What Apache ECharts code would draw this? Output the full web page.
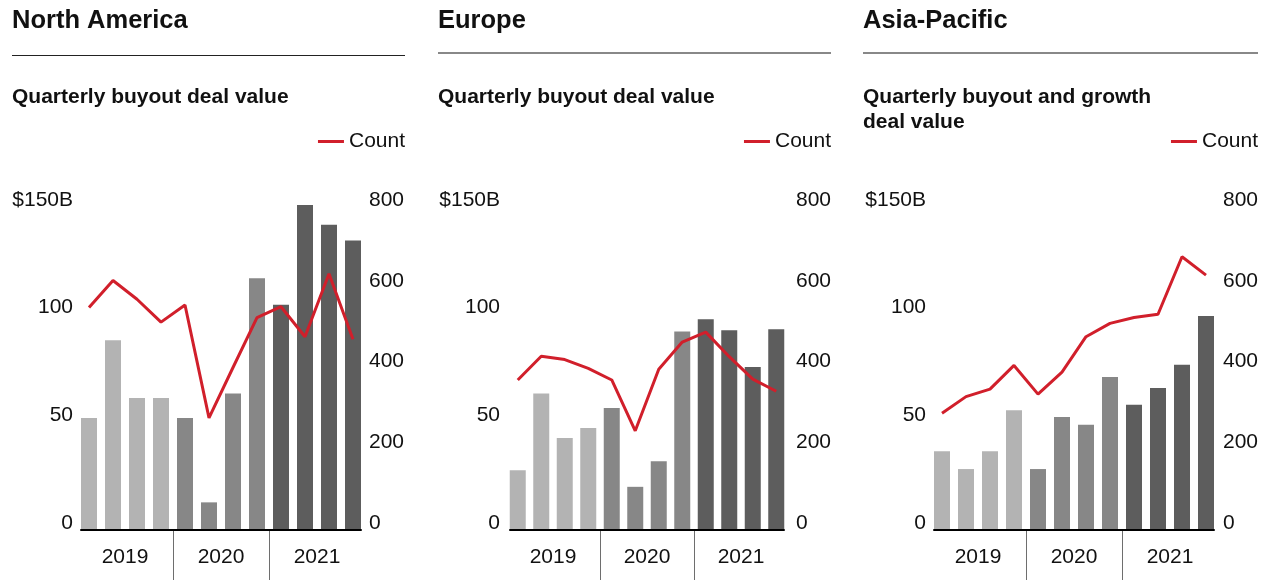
<!DOCTYPE html>
<html>
<head>
<meta charset="utf-8">
<script src="https://cdn.jsdelivr.net/npm/echarts@6.0.0/dist/echarts.min.js"></script>
<style>
  html, body { margin: 0; padding: 0; background: #fff; }
  #chart { width: 1270px; height: 580px; }
</style>
</head>
<body>
<div id="chart"></div>
<script>
// quarterly categories, 2019 Q1 .. 2021 Q4
const quarters = [
  'Q1 2019', 'Q2 2019', 'Q3 2019', 'Q4 2019',
  'Q1 2020', 'Q2 2020', 'Q3 2020', 'Q4 2020',
  'Q1 2021', 'Q2 2021', 'Q3 2021', 'Q4 2021'
]
const years = ['2019', '2020', '2021']
const regions = ['North America', 'Europe', 'Asia-Pacific']
const subtitles = [
  'Quarterly buyout deal value',
  'Quarterly buyout deal value',
  'Quarterly buyout and growth\ndeal value'
]
const valueTicks = ['0', '50', '100', '$150B']
const countTicks = ['0', '200', '400', '600', '800']

// deal value ($B)
const naValue = [50, 85, 59, 59, 50, 12, 61, 113, 101, 146, 137, 130]
const euValue = [26.5, 61, 41, 45.5, 54.5, 19, 30.5, 89, 94.5, 89.5, 73, 90]
const apValue = [35, 27, 35, 53.5, 27, 50.5, 47, 68.5, 56, 63.5, 74, 96]

// deal count
const naCount = [532, 597, 552, 497, 538, 267, 388, 508, 534, 462, 613, 456]
const euCount = [358, 415, 407, 386, 358, 236, 384, 449, 473, 414, 360, 331]
const apCount = [278, 318, 336, 393, 324, 377, 462, 494, 508, 516, 654, 610]

const values = [naValue, euValue, apValue]
const counts = [naCount, euCount, apCount]

const barShades = ['#b3b3b3', '#878787', '#5d5d5d']
const red = '#d11f2b'
const font = 'Liberation Sans, Arial, sans-serif'

// layout of the three panels (px)
const panels = [
  { text: 12, ruleEnd: 405, gridLeft: 77, gridWidth: 288, lm: 4, rm: 4, ruleY: 55.5, ruleW: 1, ruleColor: '#222' },
  { text: 438, ruleEnd: 831, gridLeft: 506, gridWidth: 282, lm: 6, rm: 8, ruleY: 53, ruleW: 2, ruleColor: '#888' },
  { text: 863, ruleEnd: 1258, gridLeft: 930, gridWidth: 288, lm: 4, rm: 5, ruleY: 53, ruleW: 2, ruleColor: '#888' }
]
const plotTop = 196
const plotHeight = 333
// tick labels sit on a slightly tighter band than the bars
const labelTop = 200
const labelHeight = 323

const chart = echarts.init(document.getElementById('chart'))

const title = []
const legend = []
const grid = []
const xAxis = []
const yAxis = []
const series = []
const graphic = []
const hidden = { show: false }

panels.forEach((p, i) => {
  title.push({
    text: regions[i],
    left: p.text,
    top: 8,
    padding: 0,
    textStyle: { fontFamily: font, fontSize: 25.5, fontWeight: 'bold', color: '#111' }
  })
  title.push({
    text: subtitles[i],
    left: p.text,
    top: 85,
    padding: 0,
    textStyle: { fontFamily: font, fontSize: 21, fontWeight: 'bold', color: '#111', lineHeight: 25 }
  })
  graphic.push({
    type: 'line',
    shape: { x1: p.text, y1: p.ruleY, x2: p.ruleEnd, y2: p.ruleY },
    style: { stroke: p.ruleColor, lineWidth: p.ruleW }
  })
  legend.push({
    data: [{ name: 'Count' }],
    right: 1270 - p.ruleEnd,
    top: 131,
    padding: 0,
    icon: 'rect',
    itemWidth: 26,
    itemHeight: 3,
    selectedMode: false,
    textStyle: { fontFamily: font, fontSize: 21, color: '#111' }
  })

  const g = 4 * i
  // main plot, baseline, year band, tick-label band
  grid.push({ left: p.gridLeft, width: p.gridWidth, top: plotTop, height: plotHeight })
  grid.push({ left: p.gridLeft + 4, width: p.gridWidth - 8, top: plotTop + plotHeight, height: 1 })
  grid.push({ left: p.gridLeft, width: p.gridWidth, top: plotTop + plotHeight + 1, height: 580 - plotTop - plotHeight - 1 })
  grid.push({ left: p.gridLeft, width: p.gridWidth, top: labelTop, height: labelHeight })

  xAxis.push({
    type: 'category', gridIndex: g, data: quarters,
    axisLine: hidden, axisTick: hidden, axisLabel: hidden
  })
  xAxis.push({
    type: 'category', gridIndex: g + 1, data: [''], position: 'top',
    axisLine: { show: true, lineStyle: { color: '#000', width: 2 } },
    axisTick: hidden, axisLabel: hidden
  })
  xAxis.push({
    type: 'category', gridIndex: g + 2, data: years, position: 'top',
    axisLine: hidden, axisTick: hidden,
    axisLabel: {
      inside: true, margin: 27, verticalAlign: 'middle',
      fontFamily: font, fontSize: 21, color: '#111'
    },
    splitLine: {
      show: true, interval: 0, showMinLine: false, showMaxLine: false,
      lineStyle: { color: '#6e6e6e', width: 1 }
    }
  })
  xAxis.push({ type: 'category', gridIndex: g + 3, data: quarters, show: false })

  // axes used by the series (labels hidden)
  yAxis.push({ type: 'value', gridIndex: g, min: 0, max: 150, interval: 50, show: false })
  yAxis.push({ type: 'value', gridIndex: g, min: 0, max: 800, interval: 200, show: false })
  yAxis.push({ type: 'value', gridIndex: g + 1, show: false })
  yAxis.push({ type: 'value', gridIndex: g + 2, show: false })
  // visible tick labels
  yAxis.push({
    type: 'value', gridIndex: g + 3, min: 0, max: 150, interval: 50,
    axisLine: hidden, axisTick: hidden, splitLine: hidden,
    axisLabel: {
      margin: p.lm, fontFamily: font, fontSize: 21, color: '#111',
      formatter: v => valueTicks[v / 50]
    }
  })
  yAxis.push({
    type: 'value', gridIndex: g + 3, min: 0, max: 800, interval: 200, position: 'right',
    axisLine: hidden, axisTick: hidden, splitLine: hidden,
    axisLabel: {
      margin: p.rm, fontFamily: font, fontSize: 21, color: '#111', align: 'left',
      formatter: v => countTicks[v / 200]
    }
  })

  const y = 6 * i
  series.push({
    name: 'Value',
    type: 'bar',
    xAxisIndex: g,
    yAxisIndex: y,
    data: values[i],
    barWidth: 16,
    silent: true,
    itemStyle: { color: params => barShades[Math.floor(params.dataIndex / 4)] }
  })
  series.push({
    name: 'Count',
    type: 'line',
    xAxisIndex: g,
    yAxisIndex: y + 1,
    data: counts[i],
    symbol: 'none',
    silent: true,
    z: 5,
    lineStyle: { color: red, width: 3 },
    itemStyle: { color: red }
  })
})

chart.setOption({
  animation: false,
  backgroundColor: '#fff',
  textStyle: { fontFamily: font },
  title,
  legend,
  grid,
  xAxis,
  yAxis,
  series,
  graphic
})
</script>
</body>
</html>
